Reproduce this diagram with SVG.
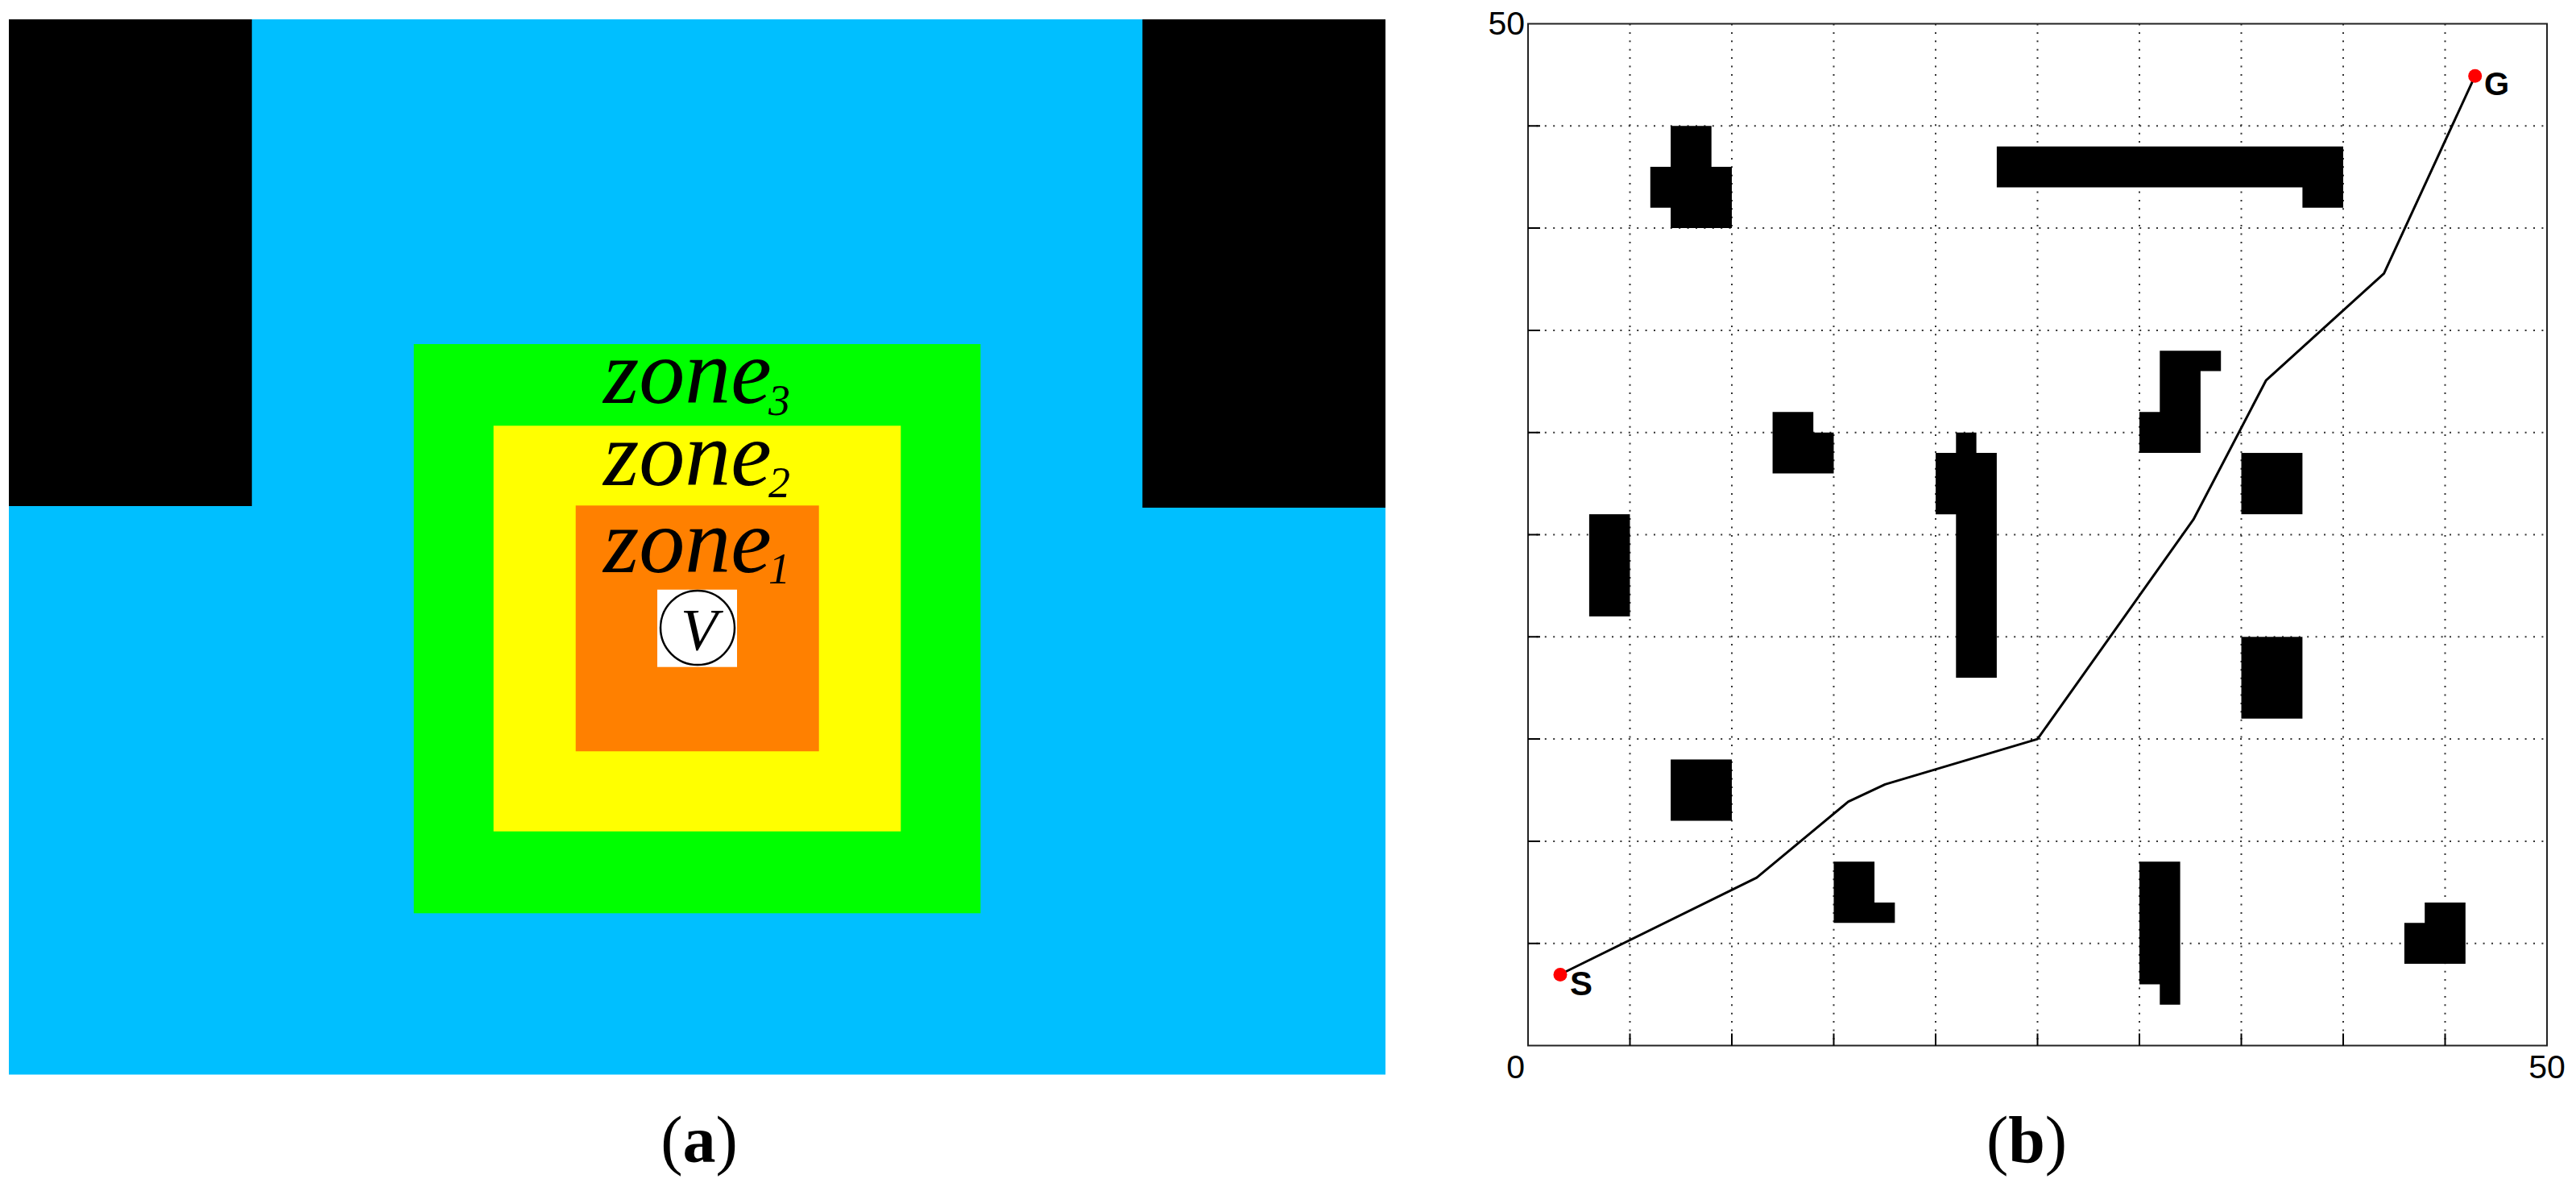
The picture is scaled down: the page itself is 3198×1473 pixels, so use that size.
<svg xmlns="http://www.w3.org/2000/svg" width="3198" height="1473" viewBox="0 0 3198 1473">
<style>
.blk{fill:#000}
.zone{font-family:"Liberation Serif","Times New Roman",serif;font-style:italic;fill:#000}
.cap{font-family:"Liberation Serif","Times New Roman",serif;fill:#000;text-anchor:middle}
.ax{font-family:"Liberation Sans",Arial,sans-serif;fill:#000}
.grid{stroke:#333;stroke-width:2;stroke-dasharray:2 8.4;fill:none}
.tick{stroke:#000;stroke-width:2;fill:none}
.obs{fill:#000;stroke:none}
</style>
<rect width="3198" height="1473" fill="#fff"/>
<g id="panel-a">
  <rect id="free-space" x="11" y="24" width="1709" height="1309.5" fill="#00BFFF"/>
  <rect id="obstacle-left" class="blk" x="11" y="24" width="301.7" height="604"/>
  <rect id="obstacle-right" class="blk" x="1418.3" y="24" width="301.7" height="606"/>
  <g id="zone3">
    <rect x="513.7" y="427" width="703.6" height="706.3" fill="#00FF00"/>
  </g>
  <g id="zone2">
    <rect x="612.7" y="528.3" width="505.6" height="503.4" fill="#FFFF00"/>
  </g>
  <g id="zone1">
    <rect x="714.7" y="627.3" width="302" height="305" fill="#FF8000"/>
  </g>
  <text class="zone" x="749" y="500" font-size="114">zone<tspan font-size="54" dx="-4" dy="15">3</tspan></text>
  <text class="zone" x="749" y="602" font-size="114">zone<tspan font-size="54" dx="-4" dy="15">2</tspan></text>
  <text class="zone" x="749" y="710" font-size="114">zone<tspan font-size="54" dx="-4" dy="14">1</tspan></text>
  <g id="vehicle">
    <rect x="816" y="731.7" width="99" height="96" fill="#fff"/>
    <circle cx="866" cy="779" r="46" fill="#fff" stroke="#000" stroke-width="2.5"/>
    <text class="zone" x="868" y="807" font-size="75" text-anchor="middle">V</text>
  </g>
  <text class="cap" x="868" y="1442" font-size="82">(<tspan font-weight="bold">a</tspan>)</text>
</g>
<g id="panel-b">
  <rect x="1897" y="29.5" width="1265" height="1268" fill="#fff"/>
  <g id="grid">
    <path class="grid" d="M2023.5 29.5V1297.5M2150 29.5V1297.5M2276.5 29.5V1297.5M2403 29.5V1297.5M2529.5 29.5V1297.5M2656 29.5V1297.5M2782.5 29.5V1297.5M2909 29.5V1297.5M3035.5 29.5V1297.5"/>
    <path class="grid" d="M1897 1170.7H3162M1897 1043.9H3162M1897 917.1H3162M1897 790.3H3162M1897 663.5H3162M1897 536.7H3162M1897 409.9H3162M1897 283.1H3162M1897 156.3H3162"/>
  </g>
  <g id="obstacles" transform="matrix(25.3 0 0 -25.36 1897 1297.5)">
    <path id="obs1" class="obs" d="M7 45H9V43H10V40H7V41H6V43H7Z"/>
    <path id="obs2" class="obs" d="M23 44H40V41H38V42H23Z"/>
    <rect id="obs3" class="obs" x="3" y="21" width="2" height="5"/>
    <path id="obs4" class="obs" d="M12 31H14V30H15V28H12Z"/>
    <path id="obs5" class="obs" d="M21 30H22V29H23V18H21V26H20V29H21Z"/>
    <path id="obs6" class="obs" d="M31 34H34V33H33V29H30V31H31Z"/>
    <rect id="obs7" class="obs" x="35" y="26" width="3" height="3"/>
    <rect id="obs8" class="obs" x="35" y="16" width="3" height="4"/>
    <rect id="obs9" class="obs" x="7" y="11" width="3" height="3"/>
    <path id="obs10" class="obs" d="M15 9H17V7H18V6H15Z"/>
    <path id="obs11" class="obs" d="M30 9H32V2H31V3H30Z"/>
    <path id="obs12" class="obs" d="M44 7H46V4H43V6H44Z"/>
  </g>
  <g id="connectors">
    <polyline id="path" transform="matrix(25.3 0 0 -25.36 1897 1297.5)" vector-effect="non-scaling-stroke" fill="none" stroke="#000" stroke-width="3" stroke-linejoin="round" points="1.57,3.48 11.22,8.22 15.71,11.93 17.52,12.78 25,15 32.65,25.74 36.22,32.56 42,37.78 46.47,47.45"/>
  </g>
  <g id="axes">
    <rect x="1897" y="29.5" width="1265" height="1268" fill="none" stroke="#222" stroke-width="2"/>
    <path class="tick" d="M2023.5 1297.5v-15M2150 1297.5v-15M2276.5 1297.5v-15M2403 1297.5v-15M2529.5 1297.5v-15M2656 1297.5v-15M2782.5 1297.5v-15M2909 1297.5v-15M3035.5 1297.5v-15"/>
    <path class="tick" d="M1897 1170.7h15M1897 1043.9h15M1897 917.1h15M1897 790.3h15M1897 663.5h15M1897 536.7h15M1897 409.9h15M1897 283.1h15M1897 156.3h15"/>
    <text class="ax" x="1893" y="43" font-size="41" text-anchor="end">50</text>
    <text class="ax" x="1893" y="1338" font-size="41" text-anchor="end">0</text>
    <text class="ax" x="3162" y="1338" font-size="41" text-anchor="middle">50</text>
  </g>
  <g id="start">
    <circle cx="1937" cy="1209.5" r="8.5" fill="#f00"/>
    <text class="ax" x="1949" y="1235" font-size="42" font-weight="bold">S</text>
  </g>
  <g id="goal">
    <circle cx="3072.7" cy="94.3" r="8.5" fill="#f00"/>
    <text class="ax" x="3084" y="118" font-size="40" font-weight="bold">G</text>
  </g>
  <text class="cap" x="2516" y="1442" font-size="82">(<tspan font-weight="bold">b</tspan>)</text>
</g>
</svg>
